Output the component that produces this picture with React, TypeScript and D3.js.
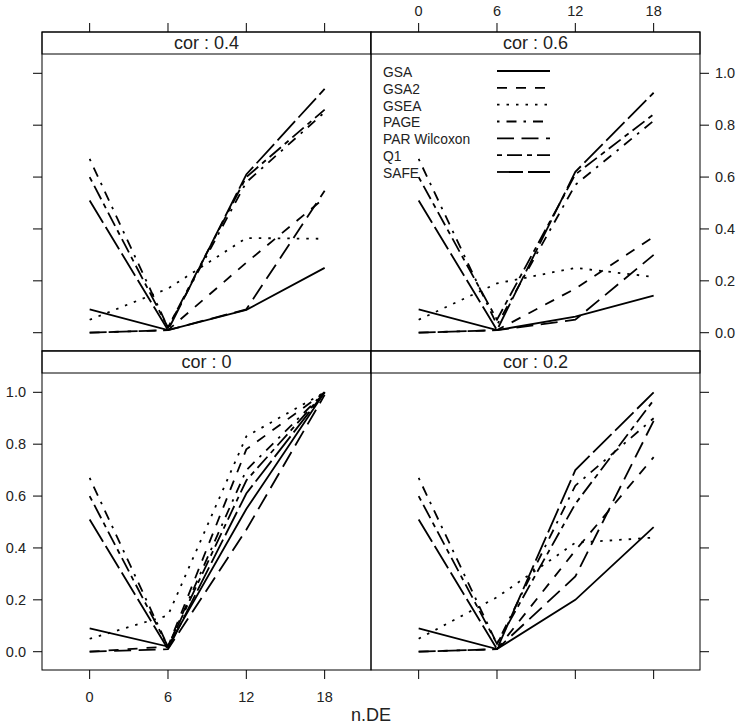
import React from "react";
import * as d3 from "d3";

// ---- data ----
const nDE = [0, 6, 12, 18];
const methods = ["GSA", "GSA2", "GSEA", "PAGE", "PAR Wilcoxon", "Q1", "SAFE"];
const xTicks = [0, 6, 12, 18];
const yTicks = [0, 0.2, 0.4, 0.6, 0.8, 1.0];

// values by method (same order as methods), at nDE = 0, 6, 12, 18
const cor0 = [
  [0.09, 0.02, 0.55, 1.0],
  [0.0, 0.02, 0.78, 1.0],
  [0.05, 0.14, 0.83, 1.0],
  [0.67, 0.02, 0.7, 1.0],
  [0.0, 0.01, 0.47, 0.99],
  [0.6, 0.02, 0.66, 1.0],
  [0.51, 0.01, 0.61, 1.0],
];
const cor02 = [
  [0.09, 0.01, 0.2, 0.48],
  [0.0, 0.01, 0.39, 0.75],
  [0.05, 0.21, 0.42, 0.44],
  [0.67, 0.03, 0.64, 0.9],
  [0.0, 0.01, 0.29, 0.89],
  [0.6, 0.03, 0.57, 0.97],
  [0.51, 0.01, 0.7, 1.0],
];
const cor04 = [
  [0.09, 0.01, 0.088, 0.25],
  [0.0, 0.01, 0.27, 0.52],
  [0.05, 0.17, 0.365, 0.362],
  [0.67, 0.02, 0.58, 0.85],
  [0.0, 0.01, 0.09, 0.547],
  [0.6, 0.02, 0.6, 0.86],
  [0.51, 0.01, 0.61, 0.94],
];
const cor06 = [
  [0.09, 0.01, 0.062, 0.143],
  [0.0, 0.01, 0.17, 0.37],
  [0.05, 0.19, 0.25, 0.215],
  [0.67, 0.03, 0.57, 0.817],
  [0.0, 0.01, 0.05, 0.3],
  [0.6, 0.05, 0.61, 0.842],
  [0.51, 0.01, 0.62, 0.925],
];

const dashes = ["", "10 9", "2.5 7", "2.5 7 10 7", "17 7.5", "5 5 15 5", "26 5"];

const panels = [
  { label: "cor : 0.4", row: 0, col: 0, values: cor04 },
  { label: "cor : 0.6", row: 0, col: 1, values: cor06 },
  { label: "cor : 0", row: 1, col: 0, values: cor0 },
  { label: "cor : 0.2", row: 1, col: 1, values: cor02 },
];

const FONT = "Arial, 'Liberation Sans', Helvetica, sans-serif";
const colX = [42, 371];
const rowY = [32, 351];
const PW = 329;
const PH = 319;
const STRIP = 22;
const TICK = 9;
const LW = 1.8;

export default function App() {
  const line = (xs: d3.ScaleLinear<number, number>, ys: d3.ScaleLinear<number, number>) =>
    d3
      .line<number>()
      .x((_, i) => xs(nDE[i]))
      .y((d) => ys(d));

  return (
    <svg
      width={742}
      height={727}
      style={{ position: "absolute", left: 0, top: 0, background: "#fff" }}
      fontFamily={FONT}
    >
      <rect x={0} y={0} width={742} height={727} fill="#fff" />
      {panels.map((p) => {
        const x0 = colX[p.col];
        const y0 = rowY[p.row];
        const xs = d3.scaleLinear().domain([-3.65, 21.55]).range([x0, x0 + PW]);
        const ys = d3
          .scaleLinear()
          .domain([-0.0705, 1.0744])
          .range([y0 + PH, y0 + STRIP]);
        const gen = line(xs, ys);
        return (
          <g key={p.label}>
            {/* strip */}
            <rect x={x0} y={y0} width={PW} height={STRIP} fill="#fff" stroke="#000" strokeWidth={1} />
            <text
              x={x0 + PW / 2}
              y={y0 + 17}
              textAnchor="middle"
              fontSize={18}
              fill="#222"
            >
              {p.label}
            </text>
            {/* lines */}
            {p.values.map((vals, mi) => (
              <path
                key={mi}
                d={gen(vals) || ""}
                fill="none"
                stroke="#000"
                strokeWidth={LW}
                strokeDasharray={dashes[mi] || undefined}
              />
            ))}
            {/* panel border */}
            <rect x={x0} y={y0} width={PW} height={PH} fill="none" stroke="#000" strokeWidth={1} />
            {/* ticks */}
            {p.row === 0 &&
              xTicks.map((t) => (
                <line key={"tt" + t} x1={xs(t)} x2={xs(t)} y1={y0} y2={y0 - TICK} stroke="#000" />
              ))}
            {p.row === 0 &&
              p.col === 1 &&
              xTicks.map((t) => (
                <text key={"tl" + t} x={xs(t)} y={y0 - 16} textAnchor="middle" fontSize={14.5} fill="#222">
                  {t}
                </text>
              ))}
            {p.row === 1 &&
              xTicks.map((t) => (
                <line key={"bt" + t} x1={xs(t)} x2={xs(t)} y1={y0 + PH} y2={y0 + PH + TICK} stroke="#000" />
              ))}
            {p.row === 1 &&
              p.col === 0 &&
              xTicks.map((t) => (
                <text key={"bl" + t} x={xs(t)} y={y0 + PH + 32} textAnchor="middle" fontSize={14.5} fill="#222">
                  {t}
                </text>
              ))}
            {p.col === 0 &&
              yTicks.map((t) => (
                <line key={"lt" + t} x1={x0} x2={x0 - TICK} y1={ys(t)} y2={ys(t)} stroke="#000" />
              ))}
            {p.col === 0 &&
              p.row === 1 &&
              yTicks.map((t) => (
                <text key={"ll" + t} x={x0 - 16} y={ys(t) + 5} textAnchor="end" fontSize={14.5} fill="#222">
                  {d3.format(".1f")(t)}
                </text>
              ))}
            {p.col === 1 &&
              yTicks.map((t) => (
                <line key={"rt" + t} x1={x0 + PW} x2={x0 + PW + TICK} y1={ys(t)} y2={ys(t)} stroke="#000" />
              ))}
            {p.col === 1 &&
              p.row === 0 &&
              yTicks.map((t) => (
                <text key={"rl" + t} x={x0 + PW + 15} y={ys(t) + 5} textAnchor="start" fontSize={14.5} fill="#222">
                  {d3.format(".1f")(t)}
                </text>
              ))}
          </g>
        );
      })}
      {/* legend */}
      {methods.map((m, i) => {
        const yc = 71 + i * 16.83;
        return (
          <g key={m}>
            <text x={383} y={yc + 6} fontSize={13.8} fill="#222">
              {m}
            </text>
            <line
              x1={497}
              x2={550}
              y1={yc}
              y2={yc}
              stroke="#000"
              strokeWidth={LW}
              strokeDasharray={dashes[i] || undefined}
            />
          </g>
        );
      })}
      <text x={371} y={721} textAnchor="middle" fontSize={18} fill="#222">
        n.DE
      </text>
    </svg>
  );
}
